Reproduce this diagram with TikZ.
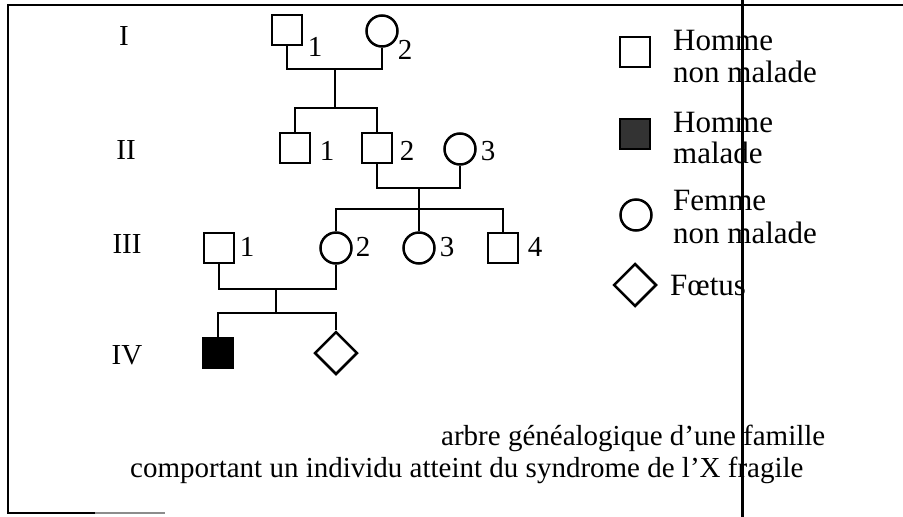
\documentclass[tikz,border=0pt]{standalone}
\usepackage{fontspec}
\setmainfont{Liberation Serif}
\usetikzlibrary{shapes.geometric}

\begin{document}
\begin{tikzpicture}[x=1pt,y=-1pt,
  male/.style={draw, line width=2.5pt, minimum size=30pt, inner sep=0pt},
  female/.style={draw, circle, line width=2.5pt, minimum size=31pt, inner sep=0pt},
  fetus/.style={draw, diamond, line width=2.5pt, minimum size=43pt, inner sep=0pt},
  ill/.style={male, fill=black},
  num/.style={font=\fontsize{29}{32}\selectfont, inner sep=0pt},
  legtxt/.style={font=\fontsize{31}{34}\selectfont, inner sep=0pt, anchor=base west},
  captxt/.style={font=\fontsize{29}{32}\selectfont, inner sep=0pt, anchor=base west},
  lnk/.style={line width=2.8pt}]
\useasboundingbox (0,0) rectangle (903,517);

% frame
\draw[line width=1.5pt] (903,5) -- (8,5) -- (8,513) -- (95,513);
\draw[line width=1.5pt, black!45] (95,513) -- (165,513);
\draw[line width=3pt] (742,0) -- (742,517);

% generations
\node[num] (gI) at (124,36) {I};
\node[num] (gII) at (126,150) {II};
\node[num] (gIII) at (127,244) {III};
\node[num] (gIV) at (127,355) {IV};

% I
\node[male] (I1) at (287,30) {};
\node[num] (nI1) at (315,47) {1};
\node[female] (I2) at (382,31) {};
\node[num] (nI2) at (405,50) {2};
% II
\node[male] (II1) at (295,148) {};
\node[num] (nII1) at (327,151) {1};
\node[male] (II2) at (377,148) {};
\node[num] (nII2) at (407,151) {2};
\node[female] (II3) at (460,149) {};
\node[num] (nII3) at (488,151) {3};
% III
\node[male] (III1) at (219,248) {};
\node[num] (nIII1) at (247,247) {1};
\node[female] (III2) at (336,248) {};
\node[num] (nIII2) at (363,247) {2};
\node[female] (III3) at (419,248) {};
\node[num] (nIII3) at (447,247) {3};
\node[male] (III4) at (503,248) {};
\node[num] (nIII4) at (535,247) {4};
% IV
\node[ill] (IV1) at (218,353) {};
\node[fetus] (IV2) at (336,353) {};

\coordinate (m1) at (335,69);
\coordinate (s1) at (335,108);
\coordinate (m2) at (419,188);
\coordinate (s2) at (419,209);
\coordinate (m3) at (276,289);
\coordinate (s3) at (276,313);

\draw[lnk] (I1) |- (m1) -| (I2);
\draw[lnk] (m1) -- (s1);
\draw[lnk] (II1) |- (s1) -| (II2);
\draw[lnk] (II2) |- (m2) -| (II3);
\draw[lnk] (m2) -- (s2);
\draw[lnk] (III2) |- (s2) -| (III4);
\draw[lnk] (s2) -- (III3);
\draw[lnk] (III1) |- (m3) -| (III2);
\draw[lnk] (m3) -- (s3);
\draw[lnk] (IV1) |- (s3) -| (IV2);

% legend
\node[male] (lgH) at (635,52) {};
\node[legtxt] (lgHa) at (673,50) {Homme};
\node[legtxt] (lgHb) at (673,82) {non malade};
\node[male, fill=black!80] (lgM) at (635,134) {};
\node[legtxt] (lgMa) at (673,132) {Homme};
\node[legtxt] (lgMb) at (673,163) {malade};
\node[female] (lgF) at (636,215) {};
\node[legtxt] (lgFa) at (673,210) {Femme};
\node[legtxt] (lgFb) at (673,243) {non malade};
\node[fetus] (lgE) at (635,285) {};
\node[legtxt] (lgEa) at (670,295) {Fœtus};

% caption
\node[captxt] (cap1) at (441,445) {arbre généalogique d’une famille};
\node[captxt] (cap2) at (130,477) {comportant un individu atteint du syndrome de l’X fragile};

\end{tikzpicture}
\end{document}
